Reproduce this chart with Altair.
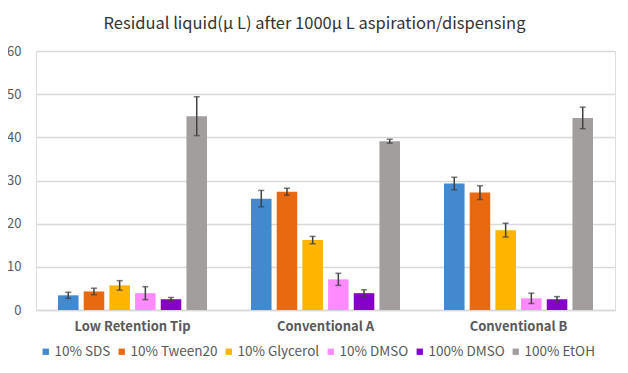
import altair as alt
import pandas as pd

groups = ["Low Retention Tip", "Conventional A", "Conventional B"]
series = ["10% SDS", "10% Tween20", "10% Glycerol", "10% DMSO", "100% DMSO", "100% EtOH"]
colors = ["#4389D0", "#E8690F", "#FFB400", "#FF8BFF", "#8400C8", "#A39E9E"]

means = {
    "10% SDS": [3.4, 25.8, 29.3],
    "10% Tween20": [4.3, 27.4, 27.2],
    "10% Glycerol": [5.7, 16.2, 18.5],
    "10% DMSO": [3.9, 7.1, 2.7],
    "100% DMSO": [2.5, 3.9, 2.5],
    "100% EtOH": [44.9, 39.1, 44.5],
}
errors = {
    "10% SDS": [0.7, 1.9, 1.45],
    "10% Tween20": [0.75, 0.8, 1.6],
    "10% Glycerol": [1.1, 0.85, 1.6],
    "10% DMSO": [1.5, 1.4, 1.2],
    "100% DMSO": [0.4, 0.8, 0.6],
    "100% EtOH": [4.5, 0.45, 2.5],
}

rows = []
for s in series:
    for g, m, e in zip(groups, means[s], errors[s]):
        rows.append({"group": g, "series": s, "value": m, "lo": m - e, "hi": m + e})
df = pd.DataFrame(rows)

FONT = "Noto Sans CJK JP"

x_enc = alt.X("group:N", sort=groups, title=None,
              scale=alt.Scale(paddingInner=0.228, paddingOuter=0.114),
              axis=alt.Axis(labelAngle=0, labelFontSize=13, labelFontWeight="bold",
                            labelColor="#595959", labelFont=FONT, labelPadding=10,
                            ticks=False, domainColor="#D9D9D9", domainWidth=1.5))
xoff = alt.XOffset("series:N", sort=series,
                   scale=alt.Scale(paddingInner=0.2, paddingOuter=0))

bars = alt.Chart(df).mark_bar().encode(
    x=x_enc,
    xOffset=xoff,
    y=alt.Y("value:Q", title=None,
            scale=alt.Scale(domain=[0, 60], nice=False),
            axis=alt.Axis(values=[0, 10, 20, 30, 40, 50, 60], labelFontSize=13,
                          labelColor="#595959", labelFont=FONT, labelPadding=15,
                          domain=False, ticks=False, gridColor="#D9D9D9", gridWidth=1.5)),
    color=alt.Color("series:N", sort=series,
                    scale=alt.Scale(domain=series, range=colors),
                    legend=alt.Legend(title=None, orient="none", legendX=3, legendY=294,
                                      direction="horizontal", columns=6, gridAlign="none",
                                      symbolType="square", symbolSize=40,
                                      symbolStrokeWidth=0, labelFontSize=13.5,
                                      labelFont=FONT, labelColor="#595959",
                                      labelOffset=2, columnPadding=4)),
)

rules = alt.Chart(df).mark_rule(color="#404040", strokeWidth=1.5).encode(
    x=alt.X("group:N", sort=groups), xOffset=xoff,
    y="lo:Q", y2="hi:Q",
)
cap_lo = alt.Chart(df).mark_tick(color="#404040", thickness=1.5, size=6).encode(
    x=alt.X("group:N", sort=groups), xOffset=xoff, y="lo:Q",
)
cap_hi = alt.Chart(df).mark_tick(color="#404040", thickness=1.5, size=6).encode(
    x=alt.X("group:N", sort=groups), xOffset=xoff, y="hi:Q",
)

chart = alt.layer(bars, rules, cap_lo, cap_hi).properties(
    width=579, height=259,
    autosize=alt.AutoSizeParams(type="none"),
    padding={"left": 28, "top": 43, "right": 5, "bottom": 60},
    title=alt.Title("Residual liquid(μ L) after 1000μ L aspiration/dispensing",
                    font=FONT, fontSize=16.5, fontWeight="normal", color="#333333",
                    anchor="middle", offset=13, dx=-11),
).configure_view(stroke=None).configure(background="white")

chart.save("out.html", embed_options={"renderer": "svg", "actions": False})
